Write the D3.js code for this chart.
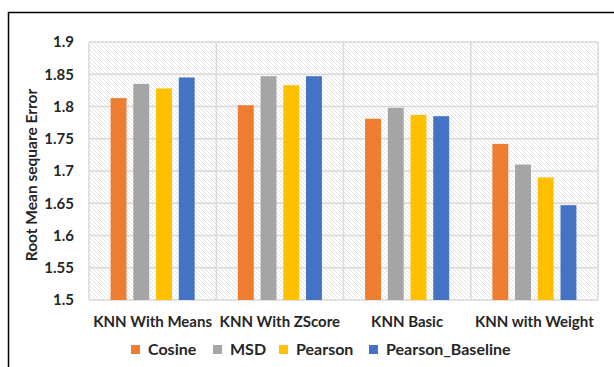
<!DOCTYPE html>
<html>
<head>
<meta charset="utf-8">
<script src="https://cdn.jsdelivr.net/npm/d3@7"></script>
<style>
  html, body { margin: 0; padding: 0; background: #fff; }
  svg { display: block; }
  text { font-family: Lato, "Open Sans", sans-serif; font-weight: 700; fill: #262626; }
</style>
</head>
<body>
<script>
// Algorithms on the x axis and similarity measures as series
const categories = ["KNN With Means", "KNN With ZScore", "KNN Basic", "KNN with Weight"];
const seriesNames = ["Cosine", "MSD", "Pearson", "Pearson_Baseline"];
const seriesColors = ["#ED7D31", "#A5A5A5", "#FFC000", "#4472C4"];
const cosine = [1.813, 1.802, 1.781, 1.742];
const msd = [1.835, 1.847, 1.798, 1.710];
const pearson = [1.828, 1.833, 1.787, 1.690];
const pearsonBaseline = [1.845, 1.847, 1.785, 1.647];
const yTicks = [1.5, 1.55, 1.6, 1.65, 1.7, 1.75, 1.8, 1.85, 1.9];
const yTitle = "Root Mean sequare Error";

const seriesValues = [cosine, msd, pearson, pearsonBaseline];

const W = 614, H = 367;
const plot = { left: 89, right: 598, top: 42, bottom: 300 };

const svg = d3.select("body").append("svg").attr("width", W).attr("height", H);

// Hatched plot background
const defs = svg.append("defs");
const pat = defs.append("pattern")
  .attr("id", "hatch").attr("patternUnits", "userSpaceOnUse")
  .attr("width", 4).attr("height", 4);
pat.append("rect").attr("width", 4).attr("height", 4).attr("fill", "#ffffff");
pat.append("path").attr("d", "M-1,-1 L5,5 M-1,3 L1,5 M3,-1 L5,1")
  .attr("stroke", "#e3e3e3").attr("stroke-width", 1);

// Outer frame (top and left edges visible)
svg.append("line").attr("x1", 8).attr("x2", W).attr("y1", 12.5).attr("y2", 12.5)
  .attr("stroke", "#000").attr("stroke-width", 1.5);
svg.append("line").attr("x1", 8.5).attr("x2", 8.5).attr("y1", 12).attr("y2", H)
  .attr("stroke", "#000").attr("stroke-width", 1.5);

const x0 = d3.scaleBand().domain(categories).range([plot.left, plot.right]).paddingInner(0).paddingOuter(0);
const x1 = d3.scaleBand().domain(seriesNames).range([0, x0.bandwidth()]).paddingInner(0.3).paddingOuter(0.95);
const y = d3.scaleLinear().domain([1.5, 1.9]).range([plot.bottom, plot.top]);

svg.append("rect")
  .attr("x", plot.left).attr("y", plot.top)
  .attr("width", plot.right - plot.left).attr("height", plot.bottom - plot.top)
  .attr("fill", "url(#hatch)");

// Horizontal gridlines
svg.append("g").selectAll("line").data(yTicks).join("line")
  .attr("x1", plot.left).attr("x2", plot.right)
  .attr("y1", d => y(d)).attr("y2", d => y(d))
  .attr("stroke", "#d9d9d9").attr("stroke-width", 1.5);

// Vertical gridlines at category boundaries
const vlines = categories.map(c => x0(c)).concat([plot.right]);
svg.append("g").selectAll("line").data(vlines).join("line")
  .attr("x1", d => d).attr("x2", d => d)
  .attr("y1", plot.top).attr("y2", plot.bottom)
  .attr("stroke", "#d9d9d9").attr("stroke-width", 1.5);

// Bars
const groups = svg.append("g").selectAll("g").data(categories).join("g")
  .attr("transform", c => `translate(${x0(c)},0)`);
groups.selectAll("rect")
  .data((c, ci) => seriesNames.map((s, si) => ({ s, si, v: seriesValues[si][ci] })))
  .join("rect")
  .attr("x", d => x1(d.s))
  .attr("width", x1.bandwidth())
  .attr("y", d => y(d.v))
  .attr("height", d => y(1.5) - y(d.v))
  .attr("fill", d => seriesColors[d.si]);

// Y axis labels
const yAxis = d3.axisLeft(y).tickValues(yTicks).tickSize(0).tickPadding(0)
  .tickFormat(d => d3.format("")(+d.toFixed(2)));
const yg = svg.append("g").attr("transform", `translate(74,0)`).call(yAxis);
yg.select(".domain").remove();
yg.selectAll("text").attr("font-size", 15).attr("font-family", null).attr("fill", "#262626");

// X axis labels
const xAxis = d3.axisBottom(x0).tickSize(0).tickPadding(0);
const xg = svg.append("g").attr("transform", `translate(0,${plot.bottom + 16})`).call(xAxis);
xg.select(".domain").remove();
xg.selectAll("text").attr("font-size", 15).attr("font-family", null).attr("fill", "#262626");

// Y axis title
svg.append("text")
  .attr("transform", `translate(37,${(plot.top + plot.bottom) / 2 + 4}) rotate(-90)`)
  .attr("text-anchor", "middle").attr("font-size", 15.5).text(yTitle);

// Legend
const legendX = [131, 213, 279, 369];
const lg = svg.append("g").selectAll("g").data(seriesNames).join("g")
  .attr("transform", (d, i) => `translate(${legendX[i]},345)`);
lg.append("rect").attr("width", 9).attr("height", 9).attr("fill", (d, i) => seriesColors[i]);
lg.append("text").attr("x", 17).attr("y", 10).attr("font-size", 16).text(d => d);
</script>
</body>
</html>
